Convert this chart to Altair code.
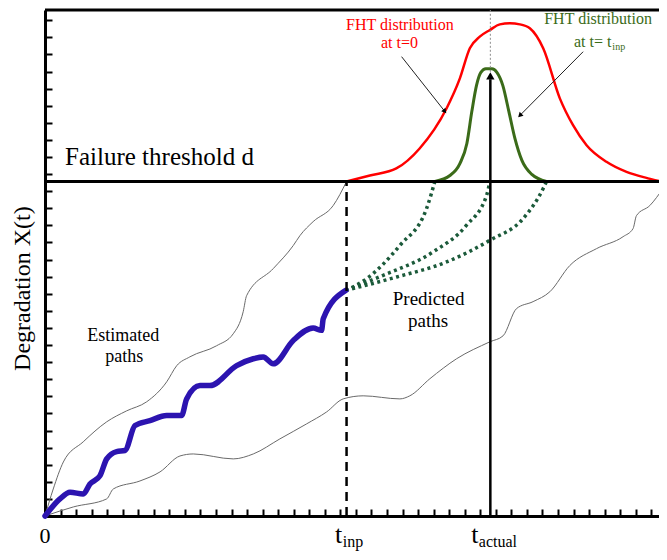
import altair as alt
import pandas as pd

# ---------------- data (time units on x, degradation units on y) ----------------
X_MAX = 39.5          # visible end of the time axis
Y_MAX = 29.6          # visible top of the degradation axis
D = 19.57             # failure threshold d
T_INP = 19.4          # inspection time t_inp
T_ACT = 28.65         # actual failure time t_actual
ARROW_TOP = 25.75     # tip of the arrow (peak of green FHT)

x_ticks = list(range(0, 40))
y_ticks = list(range(0, 30))

upper_x = [0, 0.53, 1.18, 2.46, 3.97, 5.25, 6.54, 7.83, 8.47, 9.32, 11.04, 12.11, 12.75, 12.97,
           14.68, 15.97, 16.40, 17.25, 18.54, 19.4]
upper_y = [0, 1.58, 3.16, 4.34, 5.51, 6.15, 6.68, 7.85, 8.79, 9.31, 9.96, 10.66, 11.95, 12.89,
           14.47, 15.82, 16.40, 17.22, 18.16, 19.57]

lower_x = [0, 1.82, 3.97, 4.39, 6.11, 7.40, 8.68, 9.54, 12.11, 13.40, 15.11, 16.83, 18.12, 19.18,
           20.47, 22.83, 23.47, 24.76, 26.48, 28.62, 29.47, 30.33, 31.40, 32.48, 33.76, 35.48,
           37.19, 37.83, 38.05, 38.91, 39.76, 40.0]
lower_y = [0, 0.53, 1.0, 1.58, 2.05, 2.58, 3.51, 3.63, 3.34, 3.63, 4.51, 5.39, 6.09, 6.85,
           7.03, 6.85, 7.03, 8.03, 9.20, 10.19, 10.54, 12.13, 12.54, 13.12, 14.65, 15.64,
           16.34, 16.81, 17.57, 18.16, 19.15, 19.45]

blue_x = [0, 0.96, 1.61, 2.46, 2.89, 3.54, 3.97, 4.61, 5.14, 5.79, 6.75, 7.83, 8.79, 9.11, 9.97,
          10.61, 12.33, 13.40, 14.04, 14.68, 15.97, 17.25, 17.79, 17.90, 19.35]
blue_y = [0, 1.0, 1.39, 1.29, 1.87, 2.36, 3.34, 3.77, 3.83, 5.29, 5.58, 5.88, 5.88, 6.85, 7.63,
          7.63, 8.80, 9.20, 9.30, 8.90, 10.27, 11.00, 10.86, 11.54, 13.20]

pred1_x = [19.35, 20.69, 22.83, 24.55, 25.08]
pred1_y = [13.2, 13.88, 15.83, 17.99, 19.57]
pred2_x = [19.35, 21.76, 24.97, 27.12, 28.41, 28.62]
pred2_y = [13.2, 14.08, 15.45, 17.01, 18.76, 19.57]
pred3_x = [19.35, 22.62, 25.83, 28.62, 30.76, 32.05, 32.26]
pred3_y = [13.2, 13.98, 14.86, 16.13, 17.40, 19.16, 19.57]

red_x = [19.4, 20.9, 22.6, 24.1, 25.83, 26.69, 27.33, 27.97, 28.62, 29.26, 29.90, 30.55, 31.19,
         32.05, 33.12, 33.97, 34.84, 36.12, 37.41, 38.69, 39.66, 40.0]
red_y = [19.57, 19.92, 20.33, 21.5, 23.84, 25.60, 27.36, 28.04, 28.43, 28.76, 28.82, 28.76, 28.53,
         27.36, 24.43, 22.86, 21.69, 20.72, 20.13, 19.78, 19.58, 19.57]

green_x = [25.08, 26.05, 26.69, 27.14, 27.46, 27.76, 28.04, 28.36, 28.75, 29.07, 29.45, 29.84,
           30.23, 30.68, 31.32, 32.26]
green_y = [19.57, 19.92, 20.62, 21.79, 23.67, 25.19, 25.95, 26.16, 26.16, 25.95, 25.19, 23.67,
           22.09, 20.80, 19.98, 19.57]

# annotation arrows: start -> end
ann_red = [(22.94, 26.87), (25.72, 23.67)]
ann_green = [(34.62, 27.16), (30.55, 23.43)]

# ---------------- chart ----------------
W, H = 614, 506
SERIF = "'Liberation Serif', 'Times New Roman', Times, serif"

def X():
    return alt.X("x:Q", scale=alt.Scale(domain=[0, X_MAX], nice=False, zero=False),
                 axis=alt.Axis(orient="top", offset=-H, values=x_ticks, labels=False, title=None,
                               grid=False, tickSize=7, tickWidth=2, tickColor="black",
                               domainColor="black", domainWidth=3))

def Y():
    return alt.Y("y:Q", scale=alt.Scale(domain=[0, Y_MAX], nice=False, zero=False),
                 axis=alt.Axis(orient="right", offset=-W, values=y_ticks, labels=False, title=None,
                               grid=False, tickSize=7, tickWidth=2, tickColor="black",
                               domainColor="black", domainWidth=3))

def series(name, xs, ys):
    return pd.DataFrame({"x": xs, "y": ys, "s": name, "o": list(range(len(xs)))})

def line_layer(df, **mark):
    return alt.Chart(df).mark_line(interpolate="monotone", **mark).encode(
        x=X(), y=Y(), detail="s:N", order="o:Q")

gray = pd.concat([series("upper", upper_x, upper_y), series("lower", lower_x, lower_y)])
pred = pd.concat([series("p1", pred1_x, pred1_y), series("p2", pred2_x, pred2_y),
                  series("p3", pred3_x, pred3_y)])

layers = []
layers.append(line_layer(gray, color="#6a6a6a", strokeWidth=1))
layers.append(line_layer(pred, color="#1b5a3a", strokeWidth=3.5, strokeDash=[3, 3.5]))
layers.append(line_layer(series("blue", blue_x, blue_y), color="#2c14b0", strokeWidth=5.5,
                         strokeCap="round", strokeJoin="round"))
layers.append(line_layer(series("red", red_x, red_y), color="#ff0000", strokeWidth=2.5))
layers.append(line_layer(series("green", green_x, green_y), color="#3b6b19", strokeWidth=3))

def rule(x, y, x2, y2, **mark):
    df = pd.DataFrame({"x": [x], "y": [y], "x2": [x2], "y2": [y2]})
    return alt.Chart(df).mark_rule(**mark).encode(x=X(), y=Y(), x2="x2:Q", y2="y2:Q")

# frame top, threshold
layers.append(rule(0, Y_MAX, 40, Y_MAX, color="black", strokeWidth=3))
layers.append(rule(0, D, 40, D, color="black", strokeWidth=3))
# t_inp dashed
layers.append(rule(T_INP, 0, T_INP, D, color="black", strokeWidth=2.5, strokeDash=[9, 6]))
# dotted gray guide above arrow
layers.append(rule(T_ACT, ARROW_TOP, T_ACT, Y_MAX, color="#8c8c8c", strokeWidth=1, strokeDash=[2, 2]))
# actual failure arrow
layers.append(rule(T_ACT, 0, T_ACT, ARROW_TOP - 0.2, color="black", strokeWidth=2.5))
# annotation arrows
layers.append(rule(ann_red[0][0], ann_red[0][1], ann_red[1][0], ann_red[1][1], color="#222", strokeWidth=1))
layers.append(rule(ann_green[0][0], ann_green[0][1], ann_green[1][0], ann_green[1][1], color="#222", strokeWidth=1))

def head(x, y, angle, size):
    df = pd.DataFrame({"x": [x], "y": [y]})
    return alt.Chart(df).mark_point(shape="triangle-up", filled=True, opacity=1, color="black",
                                    size=size, angle=angle).encode(x=X(), y=Y())

layers.append(head(T_ACT, ARROW_TOP, 0, 70))
layers.append(head(ann_red[1][0], ann_red[1][1], 141.4, 30))
layers.append(head(ann_green[1][0], ann_green[1][1], 225.1, 30))

def txt(label, x, y, size, color="black", align="center", angle=0, baseline="alphabetic"):
    df = pd.DataFrame({"x": [x], "y": [y], "t": [label]})
    return alt.Chart(df).mark_text(font=SERIF, fontSize=size, color=color, align=align,
                                   baseline=baseline, angle=angle).encode(x=X(), y=Y(), text="t:N")

layers += [
    txt("Failure threshold d", 1.29, 20.56, 25, align="left"),
    txt("FHT distribution", 22.83, 28.43, 16, color="#ff0000"),
    txt("at t=0", 22.8, 27.36, 16, color="#ff0000"),
    txt("FHT distribution", 35.58, 28.76, 16, color="#3b6b19"),
    txt("at t= t", 36.44, 27.46, 16, color="#3b6b19", align="right"),
    txt("inp", 36.5, 27.25, 10, color="#3b6b19", align="left"),
    txt("Estimated", 5.04, 10.21, 18),
    txt("paths", 5.1, 9.0, 18),
    txt("Predicted", 24.68, 12.36, 19),
    txt("paths", 24.65, 11.05, 19),
    txt("Degradation X(t)", -0.95, 13.3, 24, angle=270),
    txt("0", 0, -1.6, 22),
    txt("t", 19.12, -1.6, 26, align="right"),
    txt("inp", 19.16, -1.8, 16, align="left"),
    txt("t", 27.88, -1.6, 26, align="right"),
    txt("actual", 27.91, -1.8, 16, align="left"),
]

chart = alt.layer(*layers).properties(
    width=W, height=H,
    autosize=alt.AutoSizeParams(type="none"),
    padding={"left": 37, "right": 0, "top": 2, "bottom": 36},
    background="white",
).configure_view(stroke=None)

chart.save("out.html", embed_options={"renderer": "svg", "actions": False})
